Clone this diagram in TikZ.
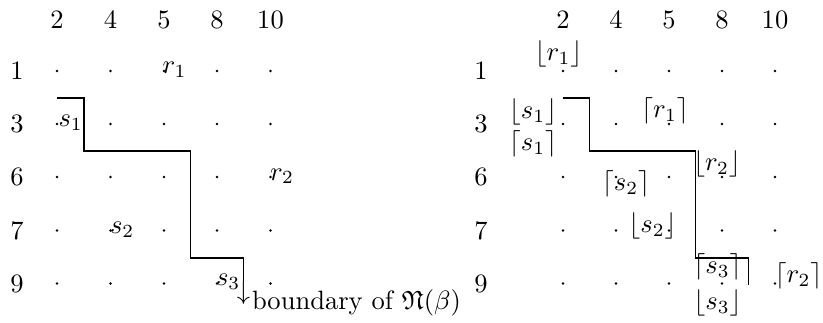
\documentclass[tikz,border=0pt]{standalone}
\usepackage{amssymb}
\begin{document}
\begin{tikzpicture}[x=0.377pt,y=-0.377pt,
  lbl/.style={inner sep=0pt},
  dotpt/.style={circle,fill=black,inner sep=0pt,minimum size=1pt},
  stair/.style={line width=0.4pt,line join=miter},
  stairthick/.style={line width=0.8pt},
  ]
\useasboundingbox (0,0) rectangle (823,322);
% ---------- left grid ----------
\foreach \n/\x in {2/57,4/110.5,5/164,8/217,10/270.5}
  \node[lbl] (hL\n) at (\x,20) {$\mathrm{\n}$};
\foreach \n/\y in {1/71,3/124,6/177,7/230.5,9/283.5}
  \node[lbl] (vL\n) at (17,\y) {$\mathrm{\n}$};
\foreach \c/\x in {2/57,4/110.5,5/164,8/217,10/270.5}
  \foreach \r/\y in {1/71,3/124,6/177,7/230.5,9/283.5}
    \node[dotpt] (L-\c-\r) at (\x,\y) {};
\node[lbl,anchor=base west] (Lr1) at (162,73.5) {$r_1$};
\node[lbl,anchor=base west] (Ls1) at (58,126.5) {$s_1$};
\node[lbl,anchor=base west] (Lr2) at (269.5,180) {$r_2$};
\node[lbl,anchor=base west] (Ls2) at (109.5,233.5) {$s_2$};
\node[lbl,anchor=base west] (Ls3) at (215.5,285.5) {$s_3$};
\coordinate (La) at (57,98);
\coordinate (Lb) at (84,98);
\coordinate (Lc) at (84,151);
\coordinate (Ld) at (190.5,151);
\coordinate (Le) at (190.5,258);
\coordinate (Lf) at (243.5,258);
\coordinate (Lg) at (243.5,281);
\draw[stair] (La) -- (Lb) -- (Lc) -- (Ld) -- (Le) -- (Lf) -- (Lg);
\draw[stairthick] (Le) -- (Lf);
\node[lbl,anchor=north] (arr) at (Lg) {$\downarrow$};
\node[lbl,anchor=base west] (bnd) at (251.5,309.5) {boundary of $\mathfrak{N}(\beta)$};
% ---------- right grid ----------
\foreach \n/\x in {2/563,4/616,5/669,8/722,10/775}
  \node[lbl] (hR\n) at (\x,20) {$\mathrm{\n}$};
\foreach \n/\y in {1/71,3/124,6/177,7/230.5,9/283.5}
  \node[lbl] (vR\n) at (481,\y) {$\mathrm{\n}$};
\foreach \c/\x in {2/563,4/616,5/669,8/722,10/775}
  \foreach \r/\y in {1/71,3/124,6/177,7/230.5,9/283.5}
    \node[dotpt] (R-\c-\r) at (\x,\y) {};
\node[lbl] (Rr1f) at (558.5,53.5) {$\lfloor r_1\rfloor$};
\node[lbl] (Rs1f) at (533,111.5) {$\lfloor s_1\rfloor$};
\node[lbl] (Rs1c) at (533,144) {$\lceil s_1\rceil$};
\node[lbl] (Rr1c) at (665,111) {$\lceil r_1\rceil$};
\node[lbl] (Rr2f) at (717,163.5) {$\lfloor r_2\rfloor$};
\node[lbl] (Rs2c) at (626,183.5) {$\lceil s_2\rceil$};
\node[lbl] (Rs2f) at (652.5,226) {$\lfloor s_2\rfloor$};
\node[lbl] (Rs3c) at (717.5,267) {$\lceil s_3\rceil$};
\node[lbl] (Rs3f) at (717.5,302.5) {$\lfloor s_3\rfloor$};
\node[lbl] (Rr2c) at (798.5,276) {$\lceil r_2\rceil$};
\coordinate (Ra) at (563,98);
\coordinate (Rb) at (589.5,98);
\coordinate (Rc) at (589.5,151);
\coordinate (Rd) at (695.5,151);
\coordinate (Re) at (695.5,258);
\coordinate (Rf) at (748.5,258);
\coordinate (Rg) at (748.5,285);
\draw[stair] (Ra) -- (Rb) -- (Rc) -- (Rd) -- (Re) -- (Rf) -- (Rg);
\draw[stairthick] (Re) -- (Rf);
\end{tikzpicture}
\end{document}
